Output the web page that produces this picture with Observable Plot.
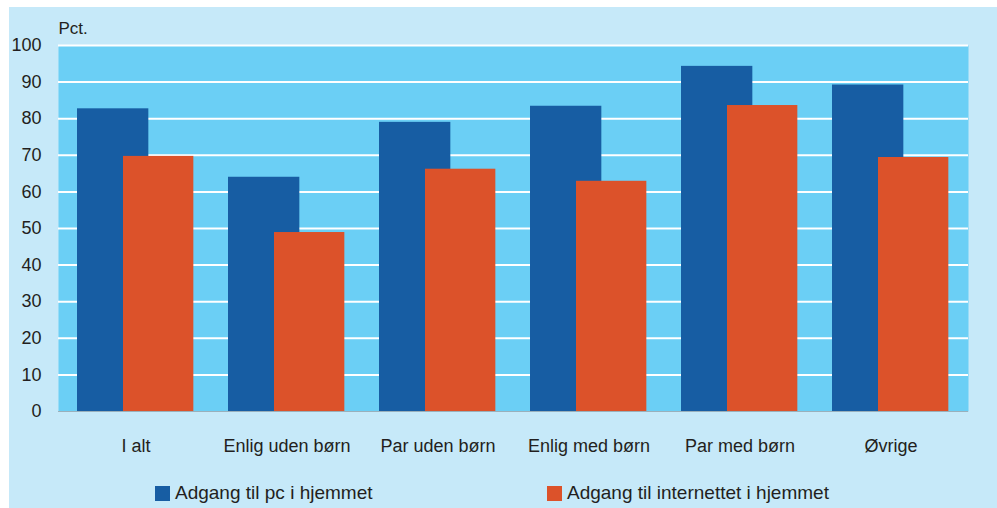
<!DOCTYPE html>
<html><head><meta charset="utf-8">
<script src="https://cdn.jsdelivr.net/npm/d3@7"></script>
<script src="https://cdn.jsdelivr.net/npm/@observablehq/plot@0.6"></script>
<style>
html,body{margin:0;padding:0;background:#fff;}
body{font-family:"Liberation Sans",Arial,sans-serif;color:#231f20;}
#panel{position:absolute;left:9px;top:7px;width:988px;height:501px;background:#c6e9f9;overflow:hidden;}
#chart{position:absolute;left:0;top:0;}
.leg{position:absolute;top:476px;height:20px;font-size:19px;line-height:20px;display:flex;align-items:center;white-space:nowrap;}
.sw{width:15px;height:15px;display:inline-block;margin-right:5px;}
</style>
</head><body>
<div id="panel"><div id="chart"></div></div>
<script>
const categories = ["I alt","Enlig uden børn","Par uden børn","Enlig med børn","Par med børn","Øvrige"];
const pcValues = [82.7, 64.0, 79.0, 83.4, 94.3, 89.2];
const netValues = [69.7, 48.9, 66.2, 62.9, 83.6, 69.4];
const seriesNames = ["Adgang til pc i hjemmet","Adgang til internettet i hjemmet"];
const seriesColors = ["#175da3","#dc522a"];
const yTicks = [0,10,20,30,40,50,60,70,80,90,100];

const pcData = categories.map((c,i)=>({cat:c, v:pcValues[i]}));
const netData = categories.map((c,i)=>({cat:c, v:netValues[i]}));

const W = 988, H = 455, mL = 49, mR = 29;
const band = (W - mL - mR) / categories.length;
const FONT = '"Liberation Sans", Arial, sans-serif';

const plot = Plot.plot({
  width: W, height: H,
  marginLeft: mL, marginRight: mR, marginTop: 38, marginBottom: 51,
  style: {background: "transparent", fontSize: "18px", fontFamily: FONT, color: "#231f20"},
  x: {type: "band", domain: categories, padding: 0},
  y: {domain: [0,100]},
  marks: [
    Plot.frame({fill: "#6bcff5", stroke: null}),
    Plot.gridY(yTicks.filter(d=>d>0), {stroke: "white", strokeOpacity: 1, strokeWidth: 2}),
    Plot.barY(pcData, {x: "cat", y: "v", fill: seriesColors[0], insetLeft: 17, insetRight: band - 89}),
    Plot.barY(netData, {x: "cat", y: "v", fill: seriesColors[1], insetLeft: 63, insetRight: band - 134}),
    Plot.ruleY([0], {stroke: "#9ab0bb", strokeWidth: 1}),
    Plot.axisY({ticks: yTicks, tickSize: 0, tickPadding: 17, label: null, fontSize: 18}),
    Plot.axisX({tickSize: 0, tickPadding: 28, label: null, fontSize: 18}),
    Plot.text(["Pct."], {frameAnchor: "top-left", text: d=>d, textAnchor: "start", lineAnchor: "bottom", dy: -12, fontSize: 17})
  ]
});
document.getElementById("chart").appendChild(plot);

const panel = document.getElementById("panel");
const legLefts = [146, 538];
seriesNames.forEach((n,i)=>{
  const d = document.createElement("div");
  d.className = "leg";
  d.style.left = legLefts[i] + "px";
  const s = document.createElement("span");
  s.className = "sw"; s.style.background = seriesColors[i];
  d.appendChild(s);
  d.appendChild(document.createTextNode(n));
  panel.appendChild(d);
});
</script>
</body></html>
